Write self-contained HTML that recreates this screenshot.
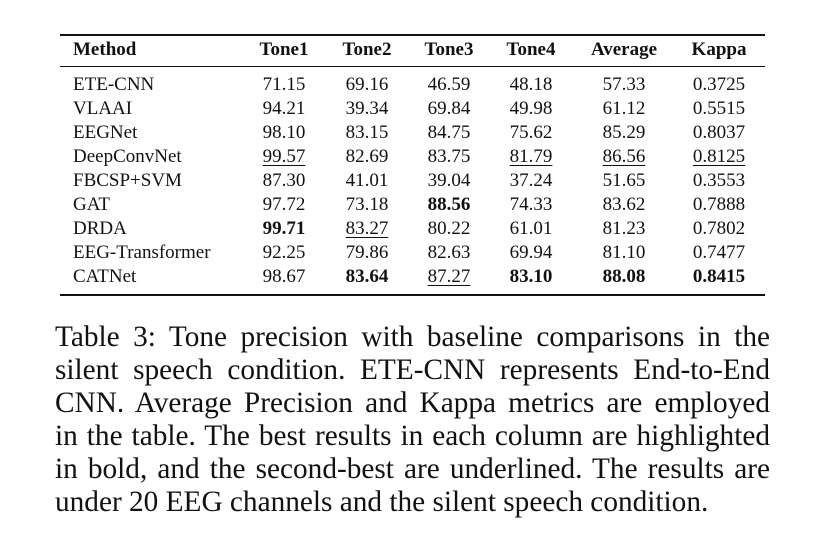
<!DOCTYPE html>
<html><head><meta charset="utf-8">
<style>
body{margin:0;width:828px;height:550px;background:#fff;position:relative;overflow:hidden;font-family:"Liberation Serif",serif;color:#111}
.rule{position:absolute;left:60px;width:705px;background:#111}
.cell{position:absolute;font-size:19px;line-height:24px;white-space:nowrap}
.c{transform:translateX(-50%)}
.b{font-weight:bold}
.u{text-decoration:underline;text-underline-offset:3px;text-decoration-thickness:1px}
#caption{position:absolute;left:55px;top:321px;width:715px;font-size:29.3px;line-height:33px}
.ln{display:block;text-align:justify;text-align-last:justify;white-space:nowrap}
.ln.last{text-align-last:left}
.tight{word-spacing:-2px}
</style></head><body>
<div class="rule" style="top:34px;height:2px"></div>
<div class="rule" style="top:66px;height:1px"></div>
<div class="rule" style="top:294px;height:2px"></div>
<div id="table"></div>
<div id="caption"><span class="ln">Table 3: Tone precision with baseline comparisons in the</span><span class="ln">silent speech condition. ETE-CNN represents End-to-End</span><span class="ln">CNN. Average Precision and Kappa metrics are employed</span><span class="ln tight">in the table. The best results in each column are highlighted</span><span class="ln tight">in bold, and the second-best are underlined. The results are</span><span class="ln last">under 20 EEG channels and the silent speech condition.</span></div>
<script>
const headers=["Method","Tone1","Tone2","Tone3","Tone4","Average","Kappa"];
const rows=[
["ETE-CNN","71.15","69.16","46.59","48.18","57.33","0.3725"],
["VLAAI","94.21","39.34","69.84","49.98","61.12","0.5515"],
["EEGNet","98.10","83.15","84.75","75.62","85.29","0.8037"],
["DeepConvNet","_99.57","82.69","83.75","_81.79","_86.56","_0.8125"],
["FBCSP+SVM","87.30","41.01","39.04","37.24","51.65","0.3553"],
["GAT","97.72","73.18","*88.56","74.33","83.62","0.7888"],
["DRDA","*99.71","_83.27","80.22","61.01","81.23","0.7802"],
["EEG-Transformer","92.25","79.86","82.63","69.94","81.10","0.7477"],
["CATNet","98.67","*83.64","_87.27","*83.10","*88.08","*0.8415"]];
const colX=[73,284,367,449,531,624,719];
const t=document.getElementById('table');
function add(txt,col,top,bold){
  const d=document.createElement('div');
  
  
  let cls='cell';
  if(col>0)cls+=' c';
  if(bold)cls+=' b';
  if(txt[0]=='*'){cls+=' b';txt=txt.slice(1);}
  else if(txt[0]=='_'){txt=txt.slice(1);d.innerHTML='<span class="u">'+txt+'</span>';}
  if(!d.innerHTML)d.textContent=txt;
  d.className=cls;d.style.left=colX[col]+'px';d.style.top=top+'px';
  t.appendChild(d);
}
headers.forEach((h,i)=>add(h,i,38,true));
rows.forEach((r,ri)=>r.forEach((v,ci)=>add(v,ci,73+ri*24,false)));
</script>
</body></html>
